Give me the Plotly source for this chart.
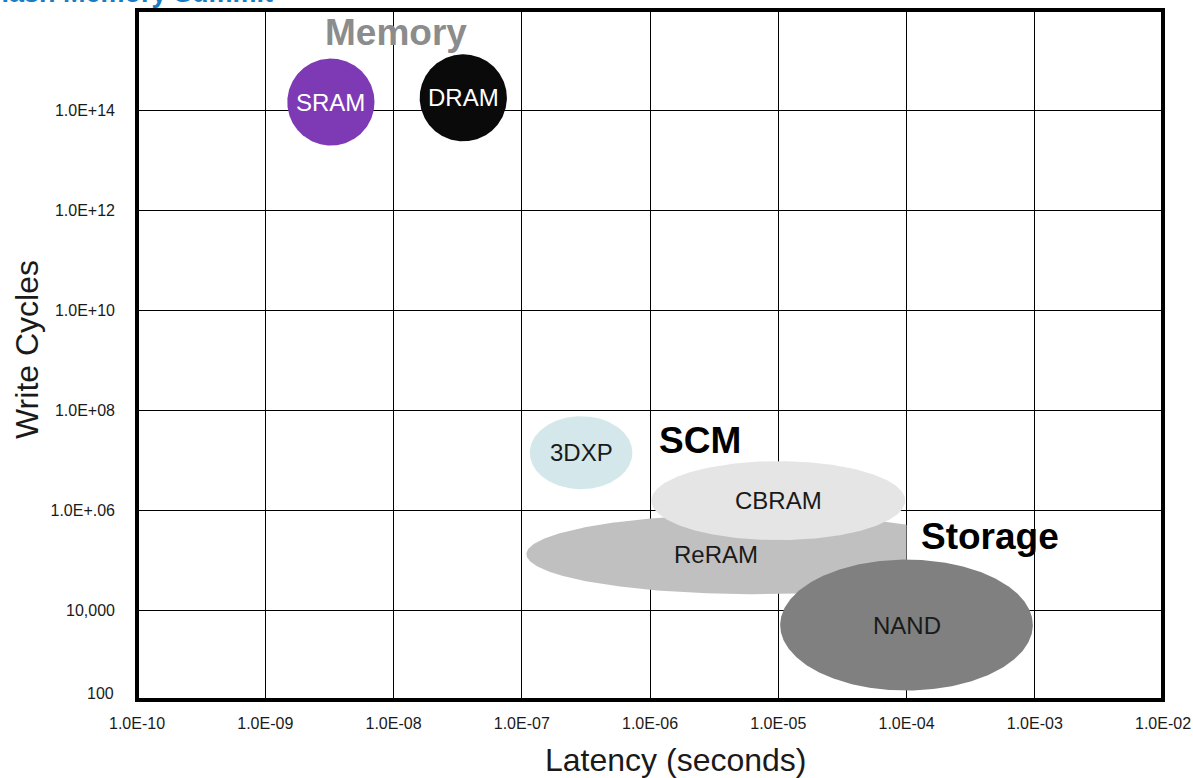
import numpy as np
import plotly.graph_objects as go

# Memory technologies: latency / endurance regions (centre and half-spread in decades)
techs = ["SRAM", "DRAM", "3DXP", "ReRAM", "CBRAM", "NAND"]
latency_center = [3.25e-9, 3.5e-8, 2.9e-7, 6.4e-6, 1.0e-5, 1.0e-4]
cycles_center = [1.44e14, 1.75e14, 1.4e7, 1.31e5, 1.54e6, 5.0e3]
latency_spread_dec = [0.34, 0.34, 0.40, 1.77, 0.99, 0.985]
cycles_spread_dec = [0.87, 0.87, 0.73, 0.80, 0.79, 1.31]
latency_cap = [None, None, None, 1.0e-4, None, None]
fill_colors = ["#7e3ab5", "#0a0a0a", "#d4e8ec", "#c0c0c0", "#e5e5e5", "#808080"]
label_colors = ["#ffffff", "#ffffff", "#1a1a1a", "#1a1a1a", "#1a1a1a", "#1a1a1a"]

# Group captions
groups = ["Memory", "SCM", "Storage"]
group_latency = [1.05e-8, 2.45e-6, 4.5e-4]
group_cycles = [3.5e15, 2.5e7, 2.9e5]
group_colors = ["#8c8c8c", "#000000", "#000000"]

# Axis ticks
x_tickvals = [1e-10, 1e-9, 1e-8, 1e-7, 1e-6, 1e-5, 1e-4, 1e-3, 1e-2]
x_ticktext = ["1.0E-10", "1.0E-09", "1.0E-08", "1.0E-07", "1.0E-06",
              "1.0E-05", "1.0E-04", "1.0E-03", "1.0E-02"]
y_tickvals = [1e4, 1e6, 1e8, 1e10, 1e12, 1e14]
y_ticktext = ["10,000", "1.0E+.06", "1.0E+08", "1.0E+10", "1.0E+12", "1.0E+14"]

FONT = "Liberation Sans, Arial, sans-serif"

fig = go.Figure()
annotations = []

t = np.linspace(0, 2 * np.pi, 361)
for name, xc, yc, ax_, ay_, cap, fc, lc in zip(
        techs, latency_center, cycles_center, latency_spread_dec,
        cycles_spread_dec, latency_cap, fill_colors, label_colors):
    lx = np.log10(xc) + ax_ * np.cos(t)
    ly = np.log10(yc) + ay_ * np.sin(t)
    left = np.log10(xc) - ax_
    right = np.log10(xc) + ax_
    if cap is not None:
        lx = np.minimum(lx, np.log10(cap))
        right = min(right, np.log10(cap))
    fig.add_trace(go.Scatter(
        x=10 ** lx, y=10 ** ly, mode="lines", fill="toself",
        fillcolor=fc, line=dict(width=0, color=fc),
        hoverinfo="skip", showlegend=False, name=name))
    annotations.append(dict(
        x=(left + right) / 2, y=np.log10(yc), xref="x", yref="y",
        text=name, showarrow=False,
        font=dict(family=FONT, size=24, color=lc)))

for g, gx, gy, gc in zip(groups, group_latency, group_cycles, group_colors):
    annotations.append(dict(
        x=np.log10(gx), y=np.log10(gy), xref="x", yref="y",
        text=f"<b>{g}</b>", showarrow=False,
        font=dict(family=FONT, size=37, color=gc)))

# Bottom value of the endurance axis
annotations.append(dict(
    x=0, y=0, xref="paper", yref="paper", xanchor="right", yanchor="middle",
    xshift=-21, yshift=7, text="100", showarrow=False,
    font=dict(family=FONT, size=16, color="#1a1a1a")))

# Axis titles
annotations.append(dict(
    x=0.525, y=0, xref="paper", yref="paper", xanchor="center", yanchor="middle",
    yshift=-60, text="Latency (seconds)", showarrow=False,
    font=dict(family=FONT, size=32, color="#1a1a1a")))
annotations.append(dict(
    x=0, y=0.5, xref="paper", yref="paper", xanchor="center", yanchor="middle",
    xshift=-110, yshift=5, text="Write Cycles", textangle=-90, showarrow=False,
    font=dict(family=FONT, size=32, color="#1a1a1a")))

# Header strip
annotations.append(dict(
    x=-0.15, y=1.0, xref="paper", yref="paper", xanchor="left", yanchor="bottom",
    text="<b>Flash Memory Summit</b>", showarrow=False,
    font=dict(family=FONT, size=27, color="#1a7cc4")))

fig.update_layout(
    width=1193, height=778,
    margin=dict(l=137, r=30, t=10, b=78, autoexpand=False),
    paper_bgcolor="white", plot_bgcolor="white",
    annotations=annotations,
    shapes=[dict(type="rect", xref="paper", yref="paper", x0=0, x1=1, y0=0, y1=1,
                 line=dict(color="black", width=4), layer="above")],
    xaxis=dict(type="log", range=[-10, -2], tickvals=x_tickvals,
               ticktext=x_ticktext, showgrid=True, gridcolor="black",
               gridwidth=1.3, zeroline=False, showline=False, ticks="",
               ticklabelstandoff=12, automargin=False,
               tickfont=dict(family=FONT, size=16, color="#1a1a1a")),
    yaxis=dict(type="log", range=[2.2, 16], tickvals=y_tickvals,
               ticktext=y_ticktext, showgrid=True, gridcolor="black",
               gridwidth=1.3, zeroline=False, showline=False, ticks="",
               ticklabelstandoff=21, automargin=False,
               tickfont=dict(family=FONT, size=16, color="#1a1a1a")),
)

fig.write_html("out.html")
